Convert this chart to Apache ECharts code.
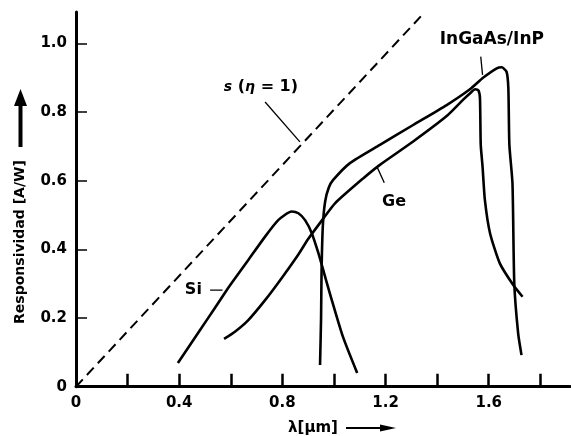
<!DOCTYPE html>
<html>
<head>
<meta charset="utf-8">
<script src="https://cdn.jsdelivr.net/npm/echarts@6/dist/echarts.min.js"></script>
<style>html,body{margin:0;padding:0;background:#fff}#c{width:571px;height:436px}</style>
</head>
<body>
<div id="c"></div>
<script>
// ---- data ----
const xLabelVals = [0, 0.4, 0.8, 1.2, 1.6];
const xTickVals = [0.2, 0.4, 0.6, 0.8, 1.0, 1.2, 1.4, 1.6, 1.8];
const yLabelVals = [0, 0.2, 0.4, 0.6, 0.8, 1.0];
const yTickVals = [0.2, 0.4, 0.6, 0.8, 1.0];

const etaX = [0, 1.35];
const etaY = [0, 1.089];

const siX = [0.395, 0.481, 0.539, 0.584, 0.616, 0.668, 0.733, 0.784, 0.836, 0.862, 0.888, 0.914, 0.94, 0.962, 0.984, 1.035, 1.09];
const siY = [0.069, 0.165, 0.23, 0.281, 0.315, 0.369, 0.437, 0.485, 0.51, 0.505, 0.485, 0.447, 0.388, 0.33, 0.272, 0.145, 0.04];

const geX = [0.574, 0.616, 0.668, 0.733, 0.797, 0.862, 0.90, 0.957, 1.004, 1.114, 1.178, 1.307, 1.437, 1.50, 1.53, 1.547, 1.56, 1.566, 1.569, 1.576, 1.585, 1.605, 1.643, 1.695, 1.731];
const geY = [0.139, 0.160, 0.194, 0.252, 0.316, 0.385, 0.43, 0.488, 0.534, 0.607, 0.646, 0.714, 0.788, 0.835, 0.856, 0.866, 0.863, 0.84, 0.704, 0.641, 0.544, 0.447, 0.359, 0.296, 0.262];

const ingX = [0.946, 0.950, 0.952, 0.957, 0.966, 0.980, 0.997, 1.062, 1.178, 1.307, 1.437, 1.527, 1.579, 1.631, 1.65, 1.669, 1.676, 1.68, 1.692, 1.699, 1.714, 1.727];
const ingY = [0.063, 0.2, 0.34, 0.47, 0.54, 0.58, 0.602, 0.651, 0.704, 0.762, 0.82, 0.866, 0.9, 0.927, 0.93, 0.917, 0.869, 0.704, 0.592, 0.301, 0.155, 0.092];

const labelNames = ['s (η = 1)', 'InGaAs/InP', 'Ge', 'Si'];
const labelX = [0.717, 1.612, 1.233, 0.455];
const labelY = [0.873, 1.01, 0.539, 0.281];

const leaderX1 = [0.733, 1.569, 1.167, 0.52];
const leaderY1 = [0.829, 0.961, 0.64, 0.281];
const leaderX2 = [0.868, 1.576, 1.195, 0.568];
const leaderY2 = [0.713, 0.908, 0.594, 0.281];

const zip = (a, b) => a.map((v, i) => [v, b[i]]);
const FONT = 'DejaVu Sans';

const curveStyle = { color: '#000', width: 2.6 };
const series = [
  { name: 's(η=1)', type: 'line', data: zip(etaX, etaY), symbol: 'none', silent: true,
    lineStyle: { color: '#000', width: 2, type: [10, 6] } },
  { name: 'Si', type: 'line', data: zip(siX, siY), symbol: 'none', smooth: 0.2, lineStyle: curveStyle },
  { name: 'Ge', type: 'line', data: zip(geX, geY), symbol: 'none', smooth: 0.2, lineStyle: curveStyle },
  { name: 'InGaAs/InP', type: 'line', data: zip(ingX, ingY), symbol: 'none', smooth: 0.2, lineStyle: curveStyle }
];
leaderX1.forEach((x, i) => {
  series.push({ type: 'line', symbol: 'none', silent: true,
    data: [[x, leaderY1[i]], [leaderX2[i], leaderY2[i]]],
    lineStyle: { color: '#000', width: 1.3 } });
});
series.push({
  type: 'scatter', symbolSize: 0, silent: true,
  itemStyle: { opacity: 1 },
  data: labelNames.map((n, i) => ({ name: n, value: [labelX[i], labelY[i]] })),
  label: {
    show: true, position: 'inside', color: '#000', opacity: 1, textBorderWidth: 0,
    fontFamily: FONT, fontWeight: 'bold',
    formatter: p => p.name === 's (η = 1)' ? '{s|}{i|s} ({i|η} = 1)' : (p.name === 'InGaAs/InP' ? '{b|' + p.name + '}' : p.name),
    fontSize: 16,
    rich: {
      i: { fontStyle: 'italic', fontWeight: 'bold', fontFamily: FONT, fontSize: 14, color: '#000' },
      s: { fontSize: 14 },
      b: { fontWeight: 'bold', fontFamily: FONT, fontSize: 17, color: '#000' }
    }
  }
});

const chart = echarts.init(document.getElementById('c'), null, { renderer: 'canvas' });
chart.setOption({
  animation: false,
  backgroundColor: '#fff',
  grid: { left: 76, right: 1, top: 12, bottom: 49.3 },
  xAxis: {
    type: 'value', min: 0, max: 1.915, interval: 0.2,
    axisLine: { lineStyle: { color: '#000', width: 3 } },
    axisTick: { inside: true, length: 13, customValues: xTickVals, lineStyle: { color: '#000', width: 2.5 } },
    axisLabel: { customValues: xLabelVals, margin: 9, color: '#000', fontFamily: FONT, fontWeight: 'bold', fontSize: 15,
      formatter: v => v === 0 ? '0' : v.toFixed(1) },
    splitLine: { show: false }
  },
  yAxis: {
    type: 'value', min: 0, max: 1.091, interval: 0.2,
    axisLine: { lineStyle: { color: '#000', width: 3 } },
    axisTick: { inside: true, length: 11, customValues: yTickVals, lineStyle: { color: '#000', width: 1.5 } },
    axisLabel: { customValues: yLabelVals, margin: 9, color: '#000', fontFamily: FONT, fontWeight: 'bold', fontSize: 15,
      formatter: v => v === 0 ? '0' : v.toFixed(1) },
    splitLine: { show: false }
  },
  graphic: [
    { type: 'text', x: 20, y: 242, rotation: Math.PI / 2,
      style: { text: 'Responsividad [A/W]', fill: '#000', font: 'bold 14px "DejaVu Sans"', align: 'center', verticalAlign: 'middle' } },
    { type: 'line', shape: { x1: 20.5, y1: 147, x2: 20.5, y2: 104 }, style: { stroke: '#000', lineWidth: 4 } },
    { type: 'polygon', shape: { points: [[14, 106], [27, 106], [20.5, 89]] }, style: { fill: '#000' } },
    { type: 'text', x: 313, y: 428,
      style: { text: 'λ[μm]', fill: '#000', font: 'bold 15px "DejaVu Sans"', align: 'center', verticalAlign: 'middle' } },
    { type: 'line', shape: { x1: 346, y1: 428, x2: 384, y2: 428 }, style: { stroke: '#000', lineWidth: 2 } },
    { type: 'polygon', shape: { points: [[380, 424.5], [396, 428], [380, 431.5]] }, style: { fill: '#000' } }
  ],
  series: series
});
</script>
</body>
</html>
